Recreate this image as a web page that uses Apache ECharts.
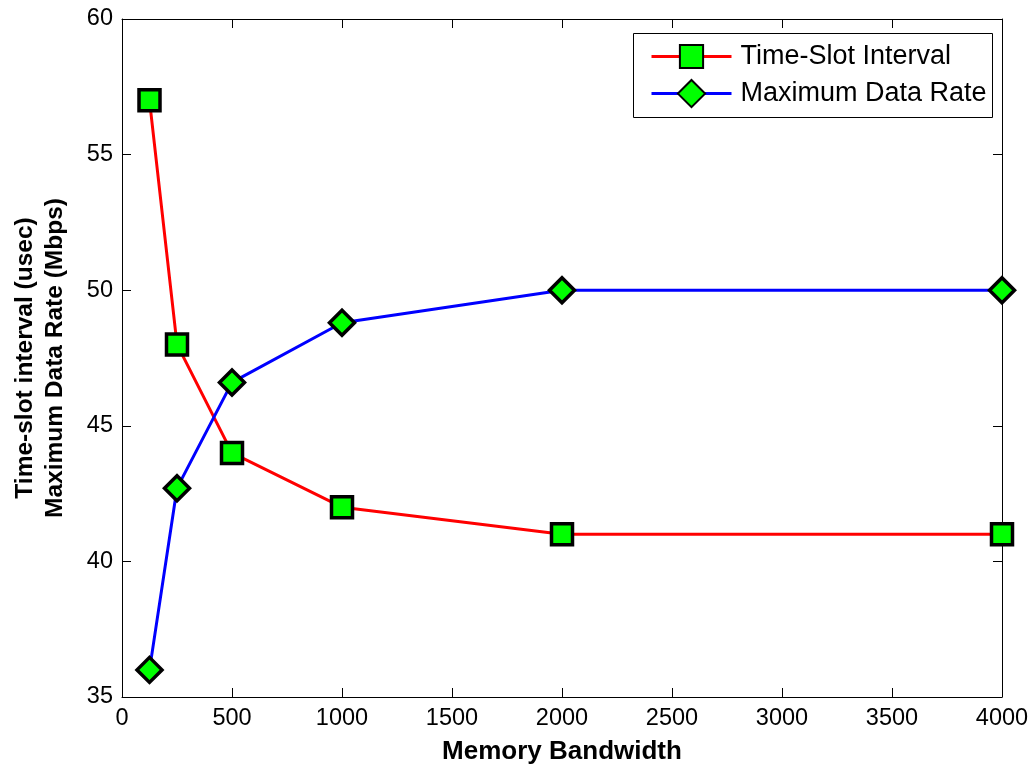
<!DOCTYPE html>
<html>
<head>
<meta charset="utf-8">
<script src="https://cdn.jsdelivr.net/npm/echarts@6/dist/echarts.min.js"></script>
<style>
  html, body { margin: 0; padding: 0; background: #fff; }
  #chart { width: 1032px; height: 767px; }
</style>
</head>
<body>
<div id="chart"></div>
<script>
// Memory bandwidth settings (x values)
const bandwidth = [125, 250, 500, 1000, 2000, 4000];
// Time-slot interval (usec)
const timeSlot = [57, 48, 44, 42, 41, 41];
// Maximum data rate (Mbps)
const dataRate = [36, 42.7, 46.6, 48.8, 50, 50];

const xTicks = { min: 0, max: 4000, interval: 500 };
const yTicks = { min: 35, max: 60, interval: 5 };

const FONT = '"Liberation Sans", Arial, sans-serif';
const toPairs = (xs, ys) => xs.map((x, i) => [x, ys[i]]);

const chart = echarts.init(document.getElementById('chart'), null, { renderer: 'canvas' });

const frameAxis = (extra) => Object.assign({
  type: 'value',
  axisLine: { show: true, onZero: false, lineStyle: { color: '#000', width: 1 } },
  axisTick: { show: true, inside: true, length: 9, lineStyle: { color: '#000', width: 1 } },
  splitLine: { show: false }
}, extra);

// one legend per series so each key symbol keeps its own size; a shared box frames both
const legendBase = {
  left: 650,
  orient: 'vertical',
  itemWidth: 80,
  padding: 0,
  z: 8,
  lineStyle: { width: 3 },
  textStyle: { fontFamily: FONT, fontSize: 27, color: '#000', padding: [0, 0, 0, 4] }
};

chart.setOption({
  animation: false,
  backgroundColor: '#fff',
  grid: { left: 122, right: 30, top: 19, bottom: 70, containLabel: false, outerBoundsMode: 'none' },
  graphic: [{
    type: 'rect',
    left: 633,
    top: 33,
    z: 3,
    shape: { width: 359, height: 84 },
    style: { fill: '#fff', stroke: '#000', lineWidth: 1 }
  }],
  legend: [
    Object.assign({}, legendBase, { top: 43, itemHeight: 29, data: ['Time-Slot Interval'] }),
    Object.assign({}, legendBase, { top: 79, itemHeight: 34, data: ['Maximum Data Rate'] })
  ],
  xAxis: [
    frameAxis(Object.assign({
      position: 'bottom',
      name: 'Memory Bandwidth',
      nameLocation: 'middle',
      nameGap: 42,
      nameTextStyle: { fontFamily: FONT, fontSize: 26, fontWeight: 'bold', color: '#000' },
      axisLabel: { fontFamily: FONT, fontSize: 23.5, color: '#000', margin: 10, formatter: (v) => String(v) }
    }, xTicks)),
    frameAxis(Object.assign({ position: 'top', axisLabel: { show: false } }, xTicks))
  ],
  yAxis: [
    frameAxis(Object.assign({
      position: 'left',
      name: 'Time-slot interval (usec)\nMaximum Data Rate (Mbps)',
      nameLocation: 'middle',
      nameGap: 52,
      nameRotate: 90,
      nameTextStyle: { fontFamily: FONT, fontSize: 24.5, fontWeight: 'bold', color: '#000', lineHeight: 30 },
      axisLabel: { fontFamily: FONT, fontSize: 23.5, color: '#000', margin: 9, formatter: (v) => String(v) }
    }, yTicks)),
    frameAxis(Object.assign({ position: 'right', axisLabel: { show: false } }, yTicks))
  ],
  series: [
    {
      name: 'Time-Slot Interval',
      type: 'line',
      xAxisIndex: 0,
      yAxisIndex: 0,
      data: toPairs(bandwidth, timeSlot),
      symbol: 'rect',
      symbolSize: 21,
      showAllSymbol: true,
      lineStyle: { color: '#ff0000', width: 3 },
      itemStyle: { color: '#00ff00', borderColor: '#000', borderWidth: 3.5 }
    },
    {
      name: 'Maximum Data Rate',
      type: 'line',
      xAxisIndex: 0,
      yAxisIndex: 0,
      data: toPairs(bandwidth, dataRate),
      symbol: 'diamond',
      symbolSize: 25,
      showAllSymbol: true,
      lineStyle: { color: '#0000ff', width: 3 },
      itemStyle: { color: '#00ff00', borderColor: '#000', borderWidth: 3.5 }
    }
  ]
});
</script>
</body>
</html>
